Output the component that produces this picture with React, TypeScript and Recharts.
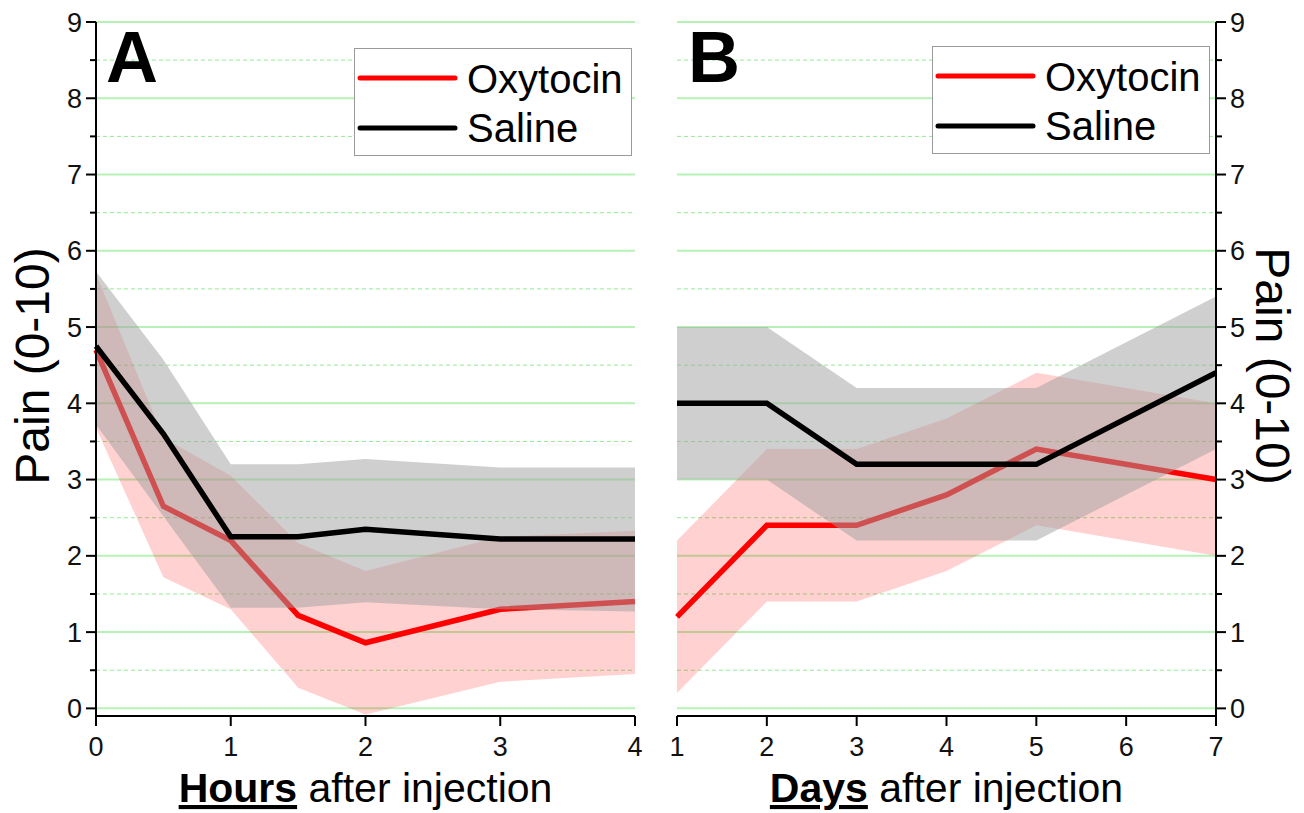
import { Area, CartesianGrid, ComposedChart, Label, Line, XAxis, YAxis } from 'recharts';

// Panel A: hours after injection
const hours = [0, 0.5, 1, 1.5, 2, 3, 4];
const oxyHoursMean = [4.7, 2.65, 2.2, 1.22, 0.86, 1.3, 1.4];
const oxyHoursLow = [3.68, 1.72, 1.3, 0.27, -0.08, 0.35, 0.45];
const oxyHoursHigh = [5.7, 3.55, 3.05, 2.17, 1.8, 2.25, 2.33];
const salHoursMean = [4.75, 3.6, 2.25, 2.25, 2.35, 2.22, 2.22];
const salHoursLow = [3.72, 2.52, 1.32, 1.32, 1.39, 1.3, 1.27];
const salHoursHigh = [5.73, 4.57, 3.2, 3.2, 3.27, 3.16, 3.16];

// Panel B: days after injection
const days = [1, 2, 3, 4, 5, 7];
const oxyDaysMean = [1.2, 2.4, 2.4, 2.8, 3.4, 3.0];
const oxyDaysLow = [0.2, 1.4, 1.4, 1.8, 2.4, 2.0];
const oxyDaysHigh = [2.2, 3.4, 3.4, 3.8, 4.4, 4.0];
const salDaysMean = [4.0, 4.0, 3.2, 3.2, 3.2, 4.4];
const salDaysLow = [3.0, 3.0, 2.2, 2.2, 2.2, 3.4];
const salDaysHigh = [5.0, 5.0, 4.2, 4.2, 4.2, 5.4];

const hourTicks = [0, 1, 2, 3, 4];
const dayTicks = [1, 2, 3, 4, 5, 6, 7];
const painTicks = [0, 0.5, 1, 1.5, 2, 2.5, 3, 3.5, 4, 4.5, 5, 5.5, 6, 6.5, 7, 7.5, 8, 8.5, 9];
const majorGrid = [0, 1, 2, 3, 4, 5, 6, 7, 8, 9];
const minorGrid = [0.5, 1.5, 2.5, 3.5, 4.5, 5.5, 6.5, 7.5, 8.5];

const FONT = 'Arial, "Liberation Sans", Helvetica, sans-serif';
const H = 813;

function buildRows(
  x: number[],
  oxyMean: number[],
  oxyLow: number[],
  oxyHigh: number[],
  salMean: number[],
  salLow: number[],
  salHigh: number[],
) {
  return x.map((t, i) => ({
    t,
    oxytocin: oxyMean[i],
    oxyBand: [oxyLow[i], oxyHigh[i]],
    saline: salMean[i],
    salBand: [salLow[i], salHigh[i]],
  }));
}

const hoursRows = buildRows(hours, oxyHoursMean, oxyHoursLow, oxyHoursHigh, salHoursMean, salHoursLow, salHoursHigh);
const daysRows = buildRows(days, oxyDaysMean, oxyDaysLow, oxyDaysHigh, salDaysMean, salDaysLow, salDaysHigh);

function YTick(props: any) {
  const { x, y, payload, side } = props;
  const major = Number.isInteger(payload.value);
  const dir = side === 'left' ? -1 : 1;
  const len = major ? 10 : 6;
  return (
    <g>
      <line x1={x} x2={x + dir * len} y1={y} y2={y} stroke="#000" strokeWidth={2} />
      {major && (
        <text x={x + dir * 14} y={y + 9.5} textAnchor={side === 'left' ? 'end' : 'start'} fontSize={27} fontFamily={FONT} fill="#111">
          {payload.value}
        </text>
      )}
    </g>
  );
}

function XTick(props: any) {
  const { x, y, payload } = props;
  return (
    <g>
      <line x1={x} x2={x} y1={y} y2={y + 10} stroke="#000" strokeWidth={2} />
      <text x={x} y={y + 40} textAnchor="middle" fontSize={27} fontFamily={FONT} fill="#111">
        {payload.value}
      </text>
    </g>
  );
}

function XTitle({ viewBox, bold, rest }: any) {
  const cx = viewBox.x + viewBox.width / 2;
  return (
    <text x={cx} y={viewBox.y + 86} textAnchor="middle" fontSize={41} fontFamily={FONT} fill="#000">
      <tspan fontWeight="bold" style={{ textDecoration: 'underline' }}>{bold}</tspan>
      <tspan>{rest}</tspan>
    </text>
  );
}

function YTitle({ viewBox, side }: any) {
  const cx = side === 'left' ? viewBox.x - 4 : viewBox.x + 56;
  const cy = viewBox.y + viewBox.height / 2 - 3;
  const angle = side === 'left' ? -90 : 90;
  return (
    <text
      x={cx}
      y={cy}
      transform={`rotate(${angle}, ${cx}, ${cy})`}
      textAnchor="middle"
      dominantBaseline="central"
      fontSize={48}
      fontFamily={FONT}
      fill="#000"
    >
      Pain (0-10)
    </text>
  );
}

function Legend({ left, top }: { left: number; top: number }) {
  return (
    <div style={{ position: 'absolute', left, top, width: 278, height: 108, boxSizing: 'border-box', border: '1px solid #9a9a9a', background: '#fff' }}>
      <svg width={276} height={106}>
        <line x1={5} x2={100} y1={29} y2={29} stroke="#ff0000" strokeWidth={5} strokeLinecap="round" />
        <text x={112} y={44} fontSize={40} fontFamily={FONT} fill="#000">Oxytocin</text>
        <line x1={5} x2={100} y1={79} y2={79} stroke="#000" strokeWidth={5} strokeLinecap="round" />
        <text x={112} y={93} fontSize={40} fontFamily={FONT} fill="#000">Saline</text>
      </svg>
    </div>
  );
}

function Panel({ rows, xDomain, xTicks, side, bold, width, margin }: any) {
  return (
    <ComposedChart width={width} height={H} data={rows} margin={margin}>
      <CartesianGrid horizontalValues={majorGrid} vertical={false} stroke="#b6f2b6" strokeWidth={2} />
      <CartesianGrid horizontalValues={minorGrid} vertical={false} stroke="#94ea94" strokeWidth={1} strokeDasharray="4 3" />
      <XAxis
        dataKey="t"
        type="number"
        domain={xDomain}
        ticks={xTicks}
        interval={0}
        height={40}
        tickSize={0}
        tickMargin={0}
        tickLine={false}
        axisLine={{ stroke: '#000', strokeWidth: 2 }}
        tick={(p: any) => <XTick {...p} />}
      >
        <Label content={(p: any) => <XTitle viewBox={p.viewBox} bold={bold} rest=" after injection" />} />
      </XAxis>
      <YAxis
        orientation={side}
        type="number"
        domain={[-0.1, 9]}
        allowDataOverflow
        ticks={painTicks}
        interval={0}
        width={60}
        tickSize={0}
        tickMargin={0}
        tickLine={false}
        axisLine={{ stroke: '#000', strokeWidth: 2 }}
        tick={(p: any) => <YTick {...p} side={side} />}
      >
        <Label content={(p: any) => <YTitle viewBox={p.viewBox} side={side} />} />
      </YAxis>
      <Area dataKey="oxyBand" type="linear" stroke="none" fill="#ff0000" fillOpacity={0.18} isAnimationActive={false} zIndex={100} />
      <Line dataKey="oxytocin" type="linear" stroke="#ff0000" strokeWidth={5.5} dot={false} activeDot={false} isAnimationActive={false} zIndex={150} />
      <Area dataKey="salBand" type="linear" stroke="none" fill="#a0a0a0" fillOpacity={0.5} isAnimationActive={false} zIndex={200} />
      <Line dataKey="saline" type="linear" stroke="#000" strokeWidth={5.5} dot={false} activeDot={false} isAnimationActive={false} zIndex={400} />
    </ComposedChart>
  );
}

export default function App() {
  return (
    <div style={{ position: 'relative', width: 1304, height: H, background: '#fff', fontFamily: FONT, overflow: 'hidden' }}>
      <style>{'body{margin:0}'}</style>
      <div style={{ position: 'absolute', left: 0, top: 0 }}>
        <Panel
          rows={hoursRows}
          xDomain={[0, 4]}
          xTicks={hourTicks}
          side="left"
          bold="Hours"
          width={660}
          margin={{ top: 22, right: 25, bottom: 57, left: 36 }}
        />
      </div>
      <div style={{ position: 'absolute', left: 650, top: 0 }}>
        <Panel
          rows={daysRows}
          xDomain={[1, 7]}
          xTicks={dayTicks}
          side="right"
          bold="Days"
          width={654}
          margin={{ top: 22, right: 28, bottom: 57, left: 27 }}
        />
      </div>
      <Legend left={354} top={48} />
      <Legend left={932} top={46} />
      <div style={{ position: 'absolute', left: 106, top: 14, fontSize: 72, fontWeight: 'bold', lineHeight: '86px' }}>A</div>
      <div style={{ position: 'absolute', left: 688, top: 14, fontSize: 72, fontWeight: 'bold', lineHeight: '86px' }}>B</div>
    </div>
  );
}
